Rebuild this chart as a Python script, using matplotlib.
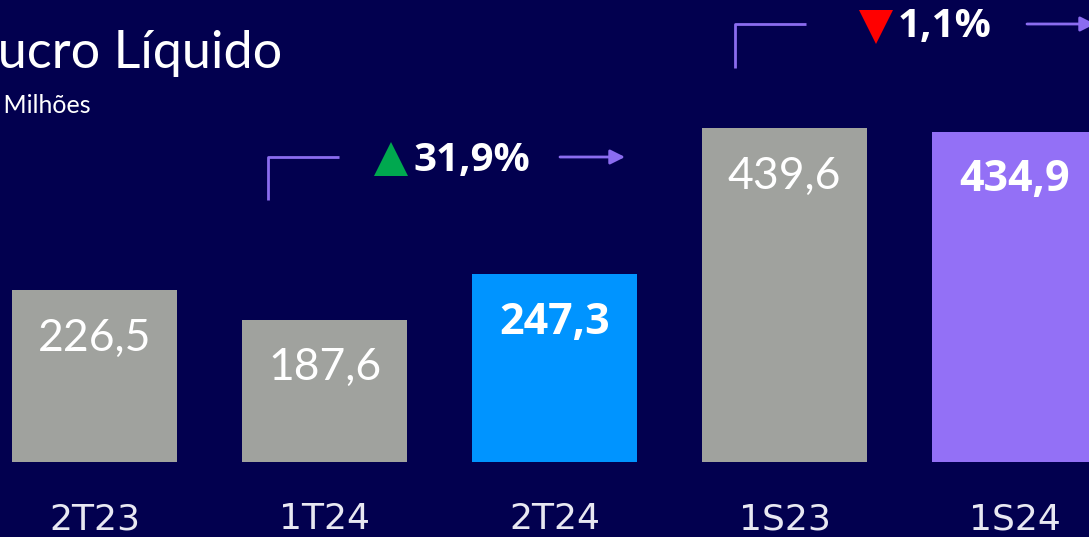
import matplotlib.pyplot as plt
import numpy as np

categories = ['2T23', '1T24', '2T24', '1S23', '1S24']
values = [226.5, 187.6, 247.3, 439.6, 434.9]
labels = ['226,5', '187,6', '247,3', '439,6', '434,9']
bar_colors = ['#A0A29E', '#A0A29E', '#0094FF', '#A0A29E', '#9370F6']
bold_label = [False, False, True, False, True]

var_labels = ['31,9%', '1,1%']
var_up = [True, False]

BG = '#02004F'
LINE = '#8B6CF0'

W, H = 1089, 537
fig = plt.figure(figsize=(W / 100, H / 100), dpi=100, facecolor=BG)
ax = fig.add_axes([0, 0, 1, 1])
ax.set_facecolor(BG)

# pixel layout: bar centres at 94.5 + 230*i, baseline at y=462, 0.759 px per unit
px_unit = 0.759
x = np.arange(len(categories))
ax.set_xlim(-94.5 / 230, (W - 94.5) / 230)
ax.set_ylim(-(H - 462) / px_unit, 462 / px_unit)
ax.axis('off')

ax.bar(x, values, width=165 / 230, color=bar_colors)

off = 48 / px_unit
for i, (v, lab, b) in enumerate(zip(values, labels, bold_label)):
    if b:
        ax.text(i, v - off, lab, ha='center', va='center', color='white',
                fontsize=31, fontweight='bold', family='Open Sans')
    else:
        ax.text(i, v - off, lab, ha='center', va='center', color='white',
                fontsize=32, fontweight='normal', family='Lato')

for i, c in enumerate(categories):
    ax.text(i, -(519 - 462) / px_unit, c, ha='center', va='center',
            color='#E8E8F2', fontsize=26,
            family=['Liberation Sans Narrow', 'DejaVu Sans'])

# title
def fx(p):
    return p / W

def fy(p):
    return 1 - p / H

ax.text(fx(-29), fy(53), 'Lucro Líquido', transform=ax.transAxes, ha='left',
        va='center', color='white', fontsize=37.5, family='Lato')
ax.text(fx(-33), fy(105), 'R$ Milhões', transform=ax.transAxes, ha='left',
        va='center', color='white', fontsize=18, family='Lato')

# variation annotations (pixel anchors)
brackets = [(268, 157, 200, 339, 560, 625, 391, 413),
            (735, 24, 68, 806, 1027, 1095, 876, 898)]
for (bx, by, bbot, bend, ax0, ax1, tri_x, txt_x), lab, up in zip(brackets, var_labels, var_up):
    ax.plot([fx(bx), fx(bx), fx(bend)], [fy(bbot), fy(by), fy(by)],
            transform=ax.transAxes, color=LINE, lw=2, solid_capstyle='butt')
    ax.annotate('', xy=(fx(ax1), fy(by)), xytext=(fx(ax0), fy(by)),
                xycoords='axes fraction', textcoords='axes fraction',
                arrowprops=dict(arrowstyle='-|>', color=LINE, lw=2,
                                mutation_scale=22, shrinkA=0, shrinkB=0))
    ax.plot(fx(tri_x), fy(by + (2 if up else 3)), transform=ax.transAxes,
            marker='^' if up else 'v', markersize=24,
            color='#00A84F' if up else '#FF0000', markeredgewidth=0)
    ax.text(fx(txt_x), fy(by + 3), lab, transform=ax.transAxes, ha='left',
            va='center', color='white', fontsize=29, fontweight='bold',
            family='Open Sans')

fig.savefig('out.png', dpi=100, facecolor=BG)
